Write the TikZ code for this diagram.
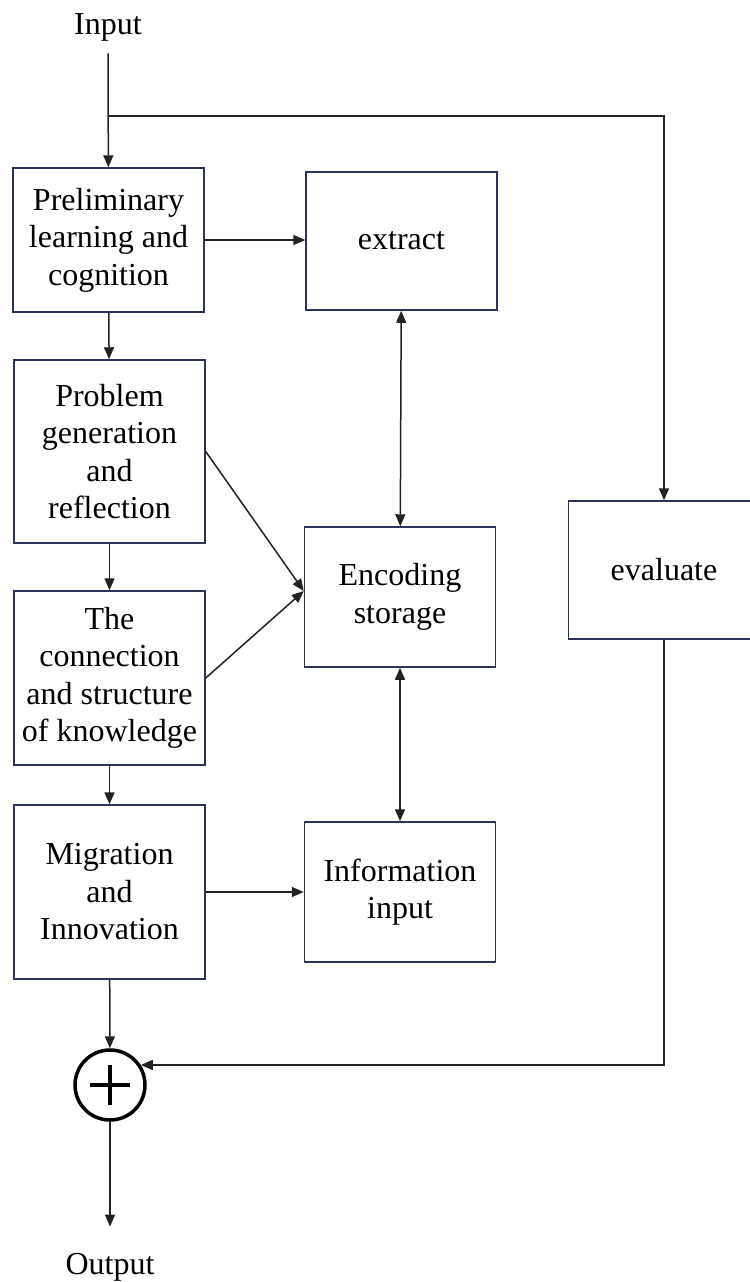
\documentclass[tikz,border=0pt]{standalone}
\usepackage{fontspec}
\setmainfont{Liberation Serif}
\usetikzlibrary{arrows.meta}
\definecolor{boxline}{RGB}{44,52,92}
\definecolor{wire}{RGB}{34,34,34}
\begin{document}
\begin{tikzpicture}[x=0.5pt,y=-0.5pt,font=\fontsize{16}{18.75}\selectfont,
    box/.style={draw=boxline,line width=0.75pt,minimum width=95.5pt,align=center},
    flow/.style={-{Triangle[length=6pt,width=5pt]},draw=wire,line width=0.75pt},
    both/.style={{Triangle[length=6pt,width=5pt]}-{Triangle[length=6pt,width=5pt]},draw=wire,line width=0.75pt}]
    \useasboundingbox (0,0) rectangle (750,1282);
    \node[inner sep=2pt] (input) at (108,27) {Input};
    \node[box,minimum height=72pt] (pre) at (108.5,240) {Preliminary\\learning and\\cognition};
    \node[box,minimum height=69pt] (extract) at (401.5,241) {extract};
    \node[box,minimum height=91.5pt] (prob) at (109.5,451.5) {Problem\\generation\\and\\reflection};
    \node[box,minimum height=87pt] (link) at (109.5,678) {The\\connection\\and structure\\of knowledge};
    \node[box,minimum height=70pt] (enc) at (400,597) {Encoding\\storage};
    \node[box,minimum height=69pt] (eval) at (664,570) {evaluate};
    \node[box,minimum height=87pt] (migr) at (109.5,892) {Migration\\and\\Innovation};
    \node[box,minimum height=70pt] (info) at (400,892) {Information\\input};
    \node[circle,draw,line width=1.75pt,minimum size=35pt] (sum) at (110,1085) {};
    \draw[line width=2pt] ([xshift=-10pt]sum.center) -- ([xshift=10pt]sum.center);
    \draw[line width=2pt] ([yshift=-10pt]sum.center) -- ([yshift=10pt]sum.center);
    \node[inner sep=2pt] (output) at (110,1267) {Output};
    \coordinate (split) at (108,116);
    % input and feedback
    \draw[flow,shorten <=4pt] (input) -- (pre);
    \draw[flow] (split) -| (eval);
    \draw[flow] (eval.south) |- (sum.33);
    % left column
    \draw[flow] (pre) -- (prob);
    \draw[flow] (prob) -- (link);
    \draw[flow] (link) -- (migr);
    \draw[flow] (migr) -- (sum);
    \draw[flow,shorten >=11pt] (sum) -- (output);
    % to the middle column
    \draw[flow] (pre.east) -- (pre.east -| extract.west);
    \draw[flow] (prob.east) -- ([yshift=3pt]enc.west);
    \draw[flow] (link.east) -- ([yshift=3pt]enc.west);
    \draw[flow] (migr.east) -- (migr.east -| info.west);
    \draw[both] (extract) -- (enc);
    \draw[both] (enc) -- (info);
\end{tikzpicture}
\end{document}
